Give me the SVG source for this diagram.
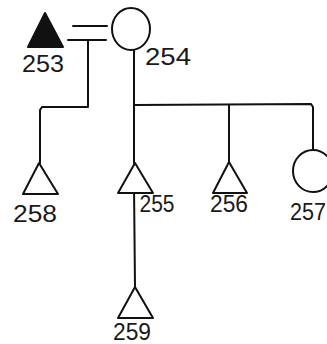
<svg xmlns="http://www.w3.org/2000/svg" width="327" height="344" viewBox="0 0 327 344">
<style>
.ln{fill:none;stroke:#111;stroke-width:2;stroke-linejoin:round;stroke-linecap:round}
.sh{fill:#fff;stroke:#111;stroke-width:2;stroke-linejoin:round}
.lb{font-family:"Liberation Sans",Arial,sans-serif;font-size:23px;fill:#1a1a1a;text-anchor:middle}
</style>
<rect width="327" height="344" fill="#fff"/>
<g id="connectors">
<line class="ln" x1="73" y1="26" x2="107" y2="26"/>
<line class="ln" x1="68" y1="40" x2="106" y2="40"/>
<polyline class="ln" points="88,40 88,107 42,107 40,110 40,163"/>
<line class="ln" x1="134" y1="50" x2="134" y2="163"/>
<polyline class="ln" points="134,105 311,104 313,107 313,150"/>
<line class="ln" x1="229" y1="105" x2="229" y2="162"/>
<line class="ln" x1="134" y1="185" x2="135" y2="287"/>
</g>
<g id="n253"><polygon points="45,13 28,47 63,47" fill="#111" stroke="#111" stroke-width="2" stroke-linejoin="round"/><text class="lb" x="43" y="72" textLength="42" lengthAdjust="spacingAndGlyphs">253</text></g>
<g id="n254"><ellipse class="sh" cx="131" cy="29" rx="19" ry="21"/><text class="lb" x="168" y="65" textLength="46" lengthAdjust="spacingAndGlyphs">254</text></g>
<g id="n258"><polygon class="sh" points="39,163 23,194 58,194"/><text class="lb" x="35" y="222" textLength="44" lengthAdjust="spacingAndGlyphs">258</text></g>
<g id="n255"><polygon class="sh" points="135,163 118,193 153,193"/><text class="lb" x="157" y="212" textLength="35" lengthAdjust="spacingAndGlyphs">255</text></g>
<g id="n256"><polygon class="sh" points="229,162 213,193 247,193"/><text class="lb" x="229" y="212" textLength="38" lengthAdjust="spacingAndGlyphs">256</text></g>
<g id="n257"><ellipse class="sh" cx="313" cy="171" rx="20" ry="21"/><text class="lb" x="308" y="220" textLength="36" lengthAdjust="spacingAndGlyphs">257</text></g>
<g id="n259"><polygon class="sh" points="135,287 118,318 153,318"/><text class="lb" x="132" y="340" font-size="21" textLength="38" lengthAdjust="spacingAndGlyphs">259</text></g>
</svg>
